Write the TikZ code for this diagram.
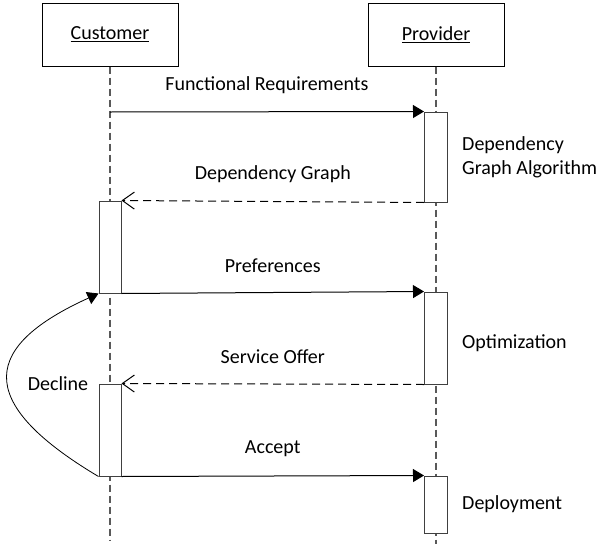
\documentclass[tikz,border=0pt]{standalone}
\usepackage{fontspec}
\setmainfont{Carlito}
\usetikzlibrary{arrows.meta}
\usetikzlibrary{positioning}
\NewDocumentCommand\lbl{m}{\fontsize{20}{24}\selectfont #1}

\begin{document}
\begin{tikzpicture}[x=1pt,y=-1pt,font=\fontsize{20}{24}\selectfont,
    head/.style={draw,line width=1pt,minimum width=136pt,minimum height=63pt,inner sep=0pt},
    life/.style={draw=black!65,line width=1.2pt,dash pattern=on 7pt off 4pt},
    act/.style={draw=black!75,fill=white,line width=1pt,minimum width=23pt,inner sep=0pt},
    call/.style={line width=1pt,-{Triangle[length=11pt,width=13pt]}},
    reply/.style={line width=1pt,dash pattern=on 8pt off 5pt,-{Straight Barb[length=12pt,width=17pt]}},
    msg/.style={midway,yshift=27pt,inner sep=1pt},
    note/.style={align=left,inner sep=2pt}]
            \useasboundingbox (0,0) rectangle (598,544);
            \node[head] (cust) at (110,34.5) {\underline{Customer}};
            \node[head] (prov) at (436,34.5) {\underline{Provider}};
            \coordinate (custend) at (110,540);
            \coordinate (provend) at (436,544);
            \draw[life] (cust) -- (custend);
            \draw[life] (prov) -- (provend);
            % activations
            \node[act,minimum height=90pt] (p1) at (436,157) {};
            \node[act,minimum height=92pt,minimum width=22pt] (c2) at (110,247) {};
            \node[act,minimum height=92pt] (p2) at (436,338) {};
            \node[act,minimum height=92pt,minimum width=22pt] (c3) at (110,430) {};
            \node[act,minimum height=57pt] (p3) at (436,504.5) {};
            \coordinate (c1) at (110,112);
            % messages
            \draw[call] (c1) --node[msg]{Functional Requirements} (p1.north west);
            \draw[reply] (p1.south west) --node[msg]{Dependency Graph} (c2.north east);
            \draw[call] (c2.south east) --node[msg]{Preferences} (p2.north west);
            \draw[reply] (p2.south west) --node[msg]{Service Offer} (c3.north east);
            \draw[call] (c3.south east) --node[msg]{Accept} (p3.north west);
            \draw[line width=0.8pt,-{Triangle[length=11pt,width=13pt]}] (c3.south west) .. controls (-30,400) and (-15,345) .. (c2.south west);
            \node (decline) at (58,384) {Decline};
            % notes
            \node[note,right=12pt of p1] (dga) {Dependency\\Graph Algorithm};
            \node[note,right=12pt of p2,yshift=-5pt] (opt) {Optimization};
            \node[note,right=12pt of p3] (dep) {Deployment};
        \end{tikzpicture}
\end{document}
